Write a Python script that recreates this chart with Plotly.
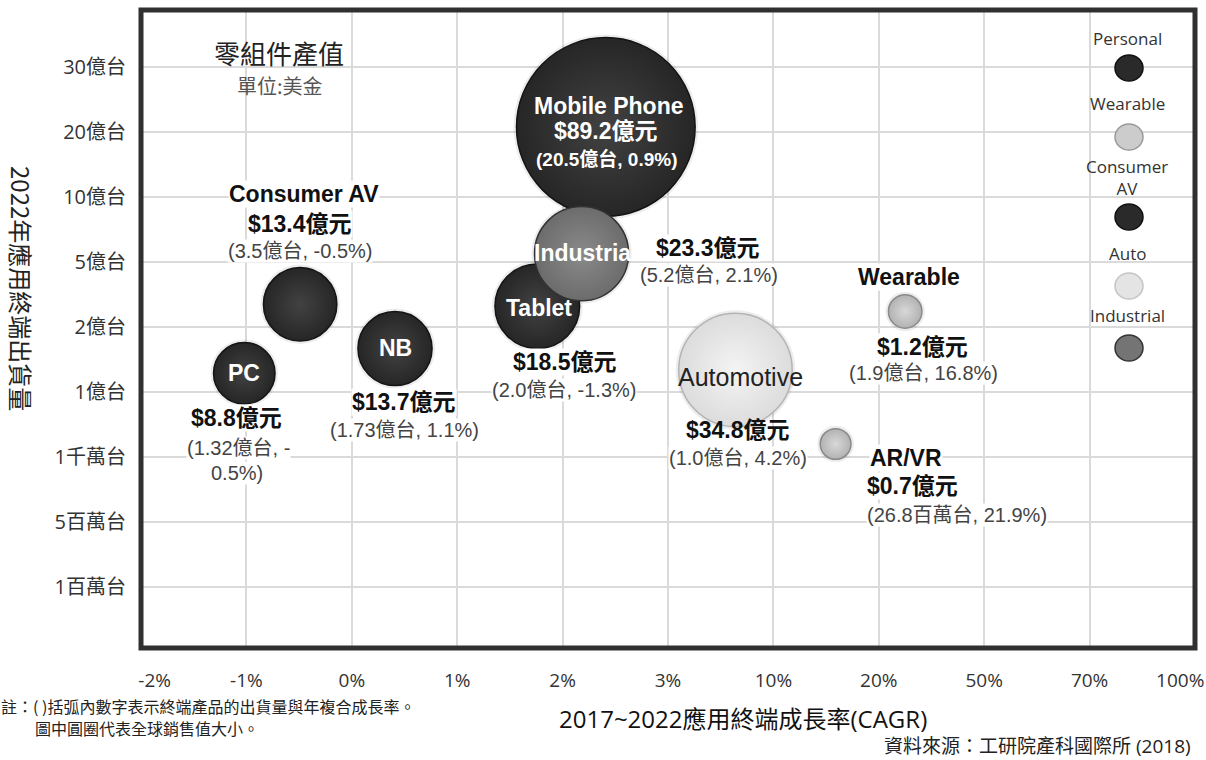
import math
import plotly.graph_objects as go

# ---------------- data ----------------
categories = ["Mobile Phone", "Tablet", "Industrial", "Consumer AV", "NB", "PC",
              "Automotive", "Wearable", "AR/VR"]
groups = ["Personal", "Personal", "Industrial", "Consumer AV", "Personal", "Personal",
          "Auto", "Wearable", "Wearable"]
sales_100m_usd = [89.2, 18.5, 23.3, 13.4, 13.7, 8.8, 34.8, 1.2, 0.7]
shipments_2022 = ["20.5億台", "2.0億台", "5.2億台", "3.5億台", "1.73億台", "1.32億台",
                  "1.0億台", "1.9億台", "26.8百萬台"]
cagr_pct = [0.9, -1.3, 2.1, -0.5, 1.1, -0.5, 4.2, 16.8, 21.9]
# bubble positions on the chart's ordinal axes (tick index units)
x_axis_pos = [4.41, 3.76, 4.18, 1.51, 2.41, 0.98, 5.64, 7.25, 6.59]
y_axis_pos = [7.08, 4.32, 5.13, 4.35, 3.67, 3.29, 3.34, 4.24, 2.20]

x_tick_labels = ["-2%", "-1%", "0%", "1%", "2%", "3%", "10%", "20%", "50%", "70%", "100%"]
y_tick_labels = ["1百萬台", "5百萬台", "1千萬台", "1億台", "2億台", "5億台",
                 "10億台", "20億台", "30億台"]
legend_groups = ["Personal", "Wearable", "Consumer AV", "Auto", "Industrial"]

# ---------------- styles ----------------
W, H = 1206, 760
L, R, T, B = 141, 1195, 10, 648

LAT = "Liberation Sans, Arial, Noto Sans CJK TC, sans-serif"
TICK = "Open Sans, Noto Sans CJK TC, sans-serif"
CJK = "Noto Sans CJK TC, sans-serif"

group_style = {
    "Personal":    dict(fill="#262626", center="#424242", line="#141414"),
    "Consumer AV": dict(fill="#262626", center="#424242", line="#141414"),
    "Industrial":  dict(fill="#6c6c6c", center="#8a8a8a", line="#333333"),
    "Auto":        dict(fill="#dcdcdc", center="#f4f4f4", line="#b4b4b4"),
    "Wearable":    dict(fill="#b2b2b2", center="#d8d8d8", line="#8a8a8a"),
}
legend_style = {
    "Personal": dict(fill="#2a2a2a", line="#111111"),
    "Wearable": dict(fill="#cccccc", line="#9a9a9a"),
    "Consumer AV": dict(fill="#2a2a2a", line="#111111"),
    "Auto": dict(fill="#e4e4e4", line="#c4c4c4"),
    "Industrial": dict(fill="#747474", line="#333333"),
}

# bubble diameter from sales value (area grows with sales)
diam = [math.sqrt(700 + 350 * v) for v in sales_100m_usd]

fig = go.Figure()

# soft shadow
fig.add_trace(go.Scatter(
    x=x_axis_pos, y=y_axis_pos, mode="markers", hoverinfo="skip", showlegend=False,
    marker=dict(size=[d + 6 for d in diam], color="rgba(0,0,0,0.10)", line=dict(width=0)),
))
fig.add_trace(go.Scatter(
    x=x_axis_pos, y=y_axis_pos, mode="markers", showlegend=False,
    text=categories, hoverinfo="text",
    marker=dict(
        size=diam, sizemode="diameter", opacity=1,
        color=[group_style[g]["fill"] for g in groups],
        gradient=dict(type="radial", color=[group_style[g]["center"] for g in groups]),
        line=dict(color=[group_style[g]["line"] for g in groups], width=1.5),
    ),
))
# empty trace so the overlay axis carrying the two end labels is drawn
fig.add_trace(go.Scatter(x=[], y=[], xaxis="x2", yaxis="y", showlegend=False, hoverinfo="skip"))

# ---------------- bubble labels ----------------
def money(v):
    return f"${v}億元"

def sub(i):
    return f"({shipments_2022[i]}, {cagr_pct[i]}%)"

BOLD = dict(family=LAT, size=23, color="#111111")
WHITE = dict(family=LAT, size=23, color="#ffffff")
SUBF = dict(family=LAT, size=20, color="#444444")

# (text, xshift, yshift, font, xanchor, bg)
label_layout = {
    "Mobile Phone": [("<b>Mobile Phone</b>", 3, 21, WHITE, "center", False),
                     ("<b>" + money(89.2) + "</b>", 0, -4, WHITE, "center", False),
                     ("<b>" + sub(0) + "</b>", 1, -32, dict(WHITE, size=19), "center", False)],
    "Tablet": [("<b>Tablet</b>", 2, -2, WHITE, "center", False),
               ("<b>" + money(18.5) + "</b>", 28, -56, BOLD, "center", True),
               (sub(1), 27, -84, SUBF, "center", True)],
    "Industrial": [("<b>Industrial</b>", -49, 1, WHITE, "left", False),
                   ("<b>" + money(23.3) + "</b>", 126, 6, BOLD, "center", True),
                   (sub(2), 127, -21, SUBF, "center", True)],
    "Consumer AV": [("<b>Consumer AV</b>", 4, 110, BOLD, "center", True),
                    ("<b>" + money(13.4) + "</b>", 0, 80, BOLD, "center", True),
                    (sub(3), 0, 53, SUBF, "center", True)],
    "NB": [("<b>NB</b>", 0, 0, WHITE, "center", False),
           ("<b>" + money(13.7) + "</b>", 9, -54, BOLD, "center", True),
           (sub(4), 9, -82, SUBF, "center", True)],
    "PC": [("<b>PC</b>", 0, 0, WHITE, "center", False),
           ("<b>" + money(8.8) + "</b>", -8, -45, BOLD, "center", True),
           (sub(5).split("-")[0] + "-", -6, -75, SUBF, "center", True),
           (sub(5).split("-")[1], -7, -100, SUBF, "center", True)],
    "Automotive": [("Automotive", 5, -7, dict(family=LAT, size=25, color="#222222"), "center", False),
                   ("<b>" + money(34.8) + "</b>", 3, -60, BOLD, "center", False),
                   (sub(6), 3, -88, SUBF, "center", True)],
    "Wearable": [("<b>Wearable</b>", 4, 34, BOLD, "center", True),
                 ("<b>" + money(1.2) + "</b>", 17, -36, BOLD, "center", True),
                 (sub(7), 18, -62, SUBF, "center", True)],
    "AR/VR": [("<b>AR/VR</b>", 33, -14, BOLD, "left", True),
              ("<b>" + money(0.7) + "</b>", 30, -42, BOLD, "left", True),
              (sub(8), 30, -71, SUBF, "left", True)],
}

annotations = []
for i, cat in enumerate(categories):
    for text, dx, dy, font, xa, bg in label_layout[cat]:
        annotations.append(dict(
            x=x_axis_pos[i], y=y_axis_pos[i], xref="x", yref="y",
            text=text, showarrow=False, xshift=dx, yshift=dy,
            xanchor=xa, yanchor="middle", font=font,
            bgcolor="#ffffff" if bg else None, borderpad=0,
        ))

# ---------------- decorations (pixel -> paper) ----------------
def px(xp, yp):
    return (xp - L) / (R - L), (B - yp) / (B - T)

shapes = []
# legend box and title box (between gridlines and traces)
for (x0, y0, x1, y1) in [(1075, 27, 1180, 372), (195, 37, 365, 105)]:
    a0, b0 = px(x0, y1)
    a1, b1 = px(x1, y0)
    shapes.append(dict(type="rect", xref="paper", yref="paper", x0=a0, x1=a1, y0=b0, y1=b1,
                       fillcolor="#ffffff", line=dict(width=0), layer="between"))

legend_label_y = [38, 103, 177, 253, 315]
legend_dot_y = [68, 137, 217, 286, 348]
for g, ly, dy in zip(legend_groups, legend_label_y, legend_dot_y):
    lx, lyp = px(1127, ly)
    annotations.append(dict(x=lx, y=lyp, xref="paper", yref="paper", showarrow=False,
                            text=g.replace(" ", "<br>"), xanchor="center", yanchor="middle",
                            font=dict(family=TICK, size=17, color="#333333")))
    cx, cy = px(1129, dy)
    st = legend_style[g]
    shapes.append(dict(type="circle", xref="paper", yref="paper",
                       xsizemode="pixel", ysizemode="pixel", xanchor=cx, yanchor=cy,
                       x0=-14, x1=14, y0=-13, y1=13,
                       fillcolor=st["fill"], line=dict(color=st["line"], width=1.5)))

# plot frame
shapes.append(dict(type="rect", xref="paper", yref="paper", x0=0, x1=1, y0=0, y1=1,
                   line=dict(color="#303030", width=5), layer="above"))

def ann_px(text, xp, yp, size, color, family=CJK, xanchor="center", angle=0):
    ax, ay = px(xp, yp)
    return dict(x=ax, y=ay, xref="paper", yref="paper", text=text, showarrow=False,
                xanchor=xanchor, yanchor="middle", textangle=angle,
                font=dict(family=family, size=size, color=color))

annotations += [
    ann_px("零組件產值", 279, 52, 26, "#222222"),
    ann_px("單位:美金", 280, 85, 20, "#555555"),
    ann_px("2022年應用終端出貨量", 22, 288, 24, "#222222", angle=90),
    ann_px("2017~2022應用終端成長率(CAGR)", 743, 718, 24, "#111111", family=TICK),
    ann_px("註：( )括弧內數字表示終端產品的出貨量與年複合成長率。", -1, 706, 16, "#222222", xanchor="left"),
    ann_px("圖中圓圈代表全球銷售值大小。", 33, 728, 16, "#222222", xanchor="left"),
    ann_px("資料來源：工研院產科國際所 (2018)", 1193, 746, 19, "#222222", family=TICK, xanchor="right"),
]

# inner ticks on the main axis; the two end labels sit slightly inside the frame
inner_idx = list(range(1, len(x_tick_labels) - 1))
end_idx = [0, len(x_tick_labels) - 1]
end_inset = [0.13, -0.14]

tickfont_x = dict(family=TICK, size=19, color="#333333")
fig.update_layout(
    width=W, height=H,
    margin=dict(l=L, r=W - R, t=T, b=H - B, autoexpand=False),
    paper_bgcolor="#ffffff", plot_bgcolor="#ffffff",
    showlegend=False,
    shapes=shapes, annotations=annotations,
    xaxis=dict(range=[0, 10], tickmode="array", tickvals=inner_idx,
               ticktext=[x_tick_labels[i] for i in inner_idx],
               showgrid=True, gridcolor="#dadada", gridwidth=1.5,
               zeroline=False, showline=False, ticks="outside", ticklen=15,
               tickcolor="rgba(0,0,0,0)", tickfont=tickfont_x,
               automargin=False, fixedrange=True),
    xaxis2=dict(range=[0, 10], overlaying="x", side="bottom", anchor="y", tickmode="array",
                tickvals=[i + d for i, d in zip(end_idx, end_inset)],
                ticktext=[x_tick_labels[i] for i in end_idx],
                showgrid=False, zeroline=False, showline=False, ticks="outside", ticklen=15,
                tickcolor="rgba(0,0,0,0)", tickfont=tickfont_x,
                automargin=False, fixedrange=True),
    yaxis=dict(range=[-0.94, 8.88], tickmode="array", tickvals=list(range(len(y_tick_labels))),
               ticktext=y_tick_labels, showgrid=True, gridcolor="#dadada", gridwidth=1.5,
               zeroline=False, showline=False, ticks="outside", ticklen=10,
               tickcolor="rgba(0,0,0,0)", tickfont=dict(family=TICK, size=20, color="#333333"),
               automargin=False, fixedrange=True),
)

fig.write_html("out.html", config={"displayModeBar": False},
               post_script="document.body.style.margin='0px';document.body.style.overflow='hidden';")
